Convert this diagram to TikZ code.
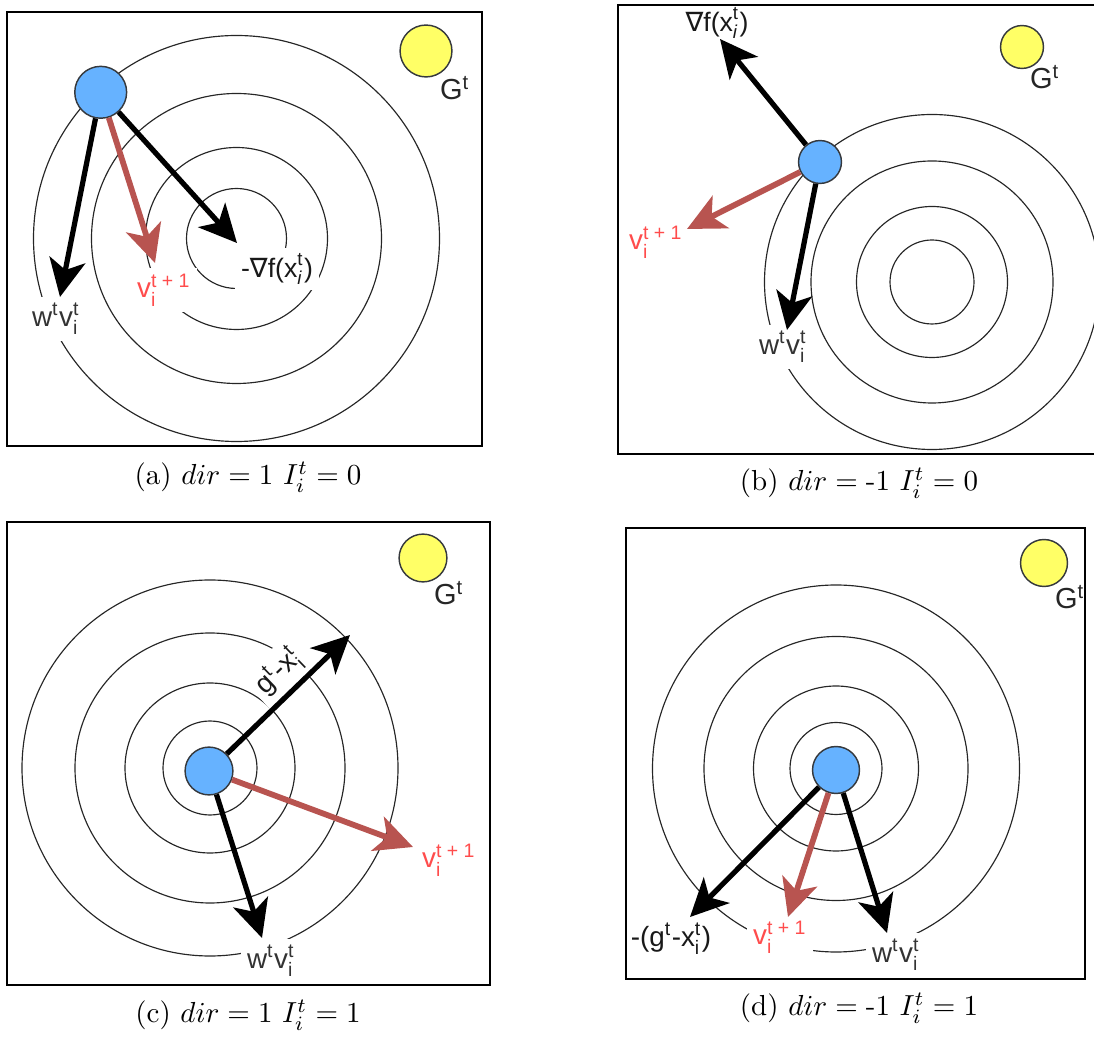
\documentclass[tikz,border=0pt]{standalone}
\usepackage{fontspec}
\usepackage{amsmath}
\usetikzlibrary{arrows.meta}
\newfontfamily\lab{Liberation Sans}
\newfontfamily\dejavu{DejaVu Sans}
\definecolor{bluef}{HTML}{66B2FF}
\definecolor{yellowf}{HTML}{FFFF66}
\definecolor{redarrow}{HTML}{B85450}
\definecolor{redtext}{HTML}{FF4C4C}
\definecolor{edge}{HTML}{36393D}
\tikzset{
  ring/.style={draw=black!85, line width=0.4pt},
  frame/.style={draw=black, line width=0.55pt},
  agent/.style={circle, draw=edge, line width=0.5pt, fill=bluef, inner sep=0pt},
  goal/.style={circle, draw=edge, line width=0.5pt, fill=yellowf, inner sep=0pt},
  arr/.style={line width=1.8pt, -{Stealth[length=13pt,width=12.5pt,inset=3.5pt]}},
  redarr/.style={arr, draw=redarrow, line width=2pt},
  lbl/.style={font=\lab\fontsize{9.6}{10}\selectfont, fill=white, inner sep=2pt, text=black!80},
  rlbl/.style={lbl, text=redtext},
  glbl/.style={font=\lab\fontsize{10}{11}\selectfont, inner sep=1pt, text=black!85},
  captext/.style={font=\fontsize{10}{12}\selectfont, inner sep=0pt}
}
\newcommand{\wv}{w$^{\text{t}}$v$^{\text{t}}_{\text{i}}$}
\newcommand{\vnext}{v$_{\text{i}}^{\text{t + 1}}$}
\newcommand{\gt}{G$^{\text{t}}$}
\begin{document}
\begin{tikzpicture}[x=0.345pt, y=-0.345pt]
\useasboundingbox (0,0) rectangle (1094,1041);
\begin{scope}
\clip (0,0) rectangle (1094,1041);
% ---------------- rings
\foreach \r in {50,91,145,203} \draw[ring] (236.5,238.5) circle[radius=\r];
\foreach \r in {42,75.5,121,167.5} \draw[ring] (932,282) circle[radius=\r];
\foreach \r in {47,85,135,188} \draw[ring] (210,768) circle[radius=\r];
\foreach \r in {46,82.5,132,183.5} \draw[ring] (836,768.5) circle[radius=\r];
\end{scope}

% ===== labels (a)
\node[lbl] (wa) at (56,319) {\wv};
\node[rlbl] (va) at (164,290) {\vnext};
\node[lbl, text=black!90, font=\lab\fontsize{9.2}{10}\selectfont] (fa) at (277,269) {-{\dejavu ∇}f(x$^{\text{t}}_{\textit{i}}$)};
\node[glbl] (Ga) at (455,88) {\gt};
% ===== labels (b)
\node[lbl, text=black!90, font=\lab\fontsize{9.2}{10}\selectfont] (fb) at (717,23) {{\dejavu ∇}f(x$^{\text{t}}_{\textit{i}}$)};
\node[rlbl] (vb) at (656,242) {\vnext};
\node[lbl] (wb) at (783,347) {\wv};
\node[glbl] (Gb) at (1045,77) {\gt};
% ===== labels (c)
\node[lbl, text=black!90, rotate=44] (gc) at (279,672) {g$^{\text{t}}$-x$^{\text{t}}_{\text{i}}$};
\node[rlbl] (vc) at (449,860) {\vnext};
\node[lbl] (wc) at (271,961) {\wv};
\node[glbl] (Gc) at (449,593) {\gt};
% ===== labels (d)
\node[lbl, text=black!90] (gd) at (671,939) {-(g$^{\text{t}}$-x$^{\text{t}}_{\text{i}}$)};
\node[rlbl] (vd) at (780,937) {\vnext};
\node[lbl] (wd) at (896,955) {\wv};
\node[glbl] (Gd) at (1070,597) {\gt};

% ===== frames
\begin{scope}
\clip (0,0) rectangle (1094,1041);
\draw[frame] (7,12) rectangle (482,446);
\draw[frame] (618,5) rectangle (1100,454);
\draw[frame] (7,522) rectangle (490,985);
\draw[frame] (626,528) rectangle (1085,979);
\end{scope}

% ===== agents and goals
\node[agent, minimum size=17.9pt] (pa) at (100.7,92.3) {};
\node[goal, minimum size=17.9pt] (ya) at (426,51) {};
\node[agent, minimum size=14.8pt] (pb) at (820,162) {};
\node[goal, minimum size=14.8pt] (yb) at (1022,47) {};
\node[agent, minimum size=16.5pt] (pc) at (209,771) {};
\node[goal, minimum size=16.5pt] (yc) at (423,558) {};
\node[agent, minimum size=16.2pt] (pd) at (836,770) {};
\node[goal, minimum size=16.2pt] (yd) at (1044,563) {};

% ===== arrow tips
\coordinate (ta1) at (60,297);
\coordinate (ta2) at (155,263);
\coordinate (ta3) at (237,243);
\coordinate (tb1) at (720,39);
\coordinate (tb2) at (687,229);
\coordinate (tb3) at (787,330);
\coordinate (tc1) at (350,635);
\coordinate (tc2) at (413,847);
\coordinate (tc3) at (262,938);
\coordinate (td1) at (690,917);
\coordinate (td2) at (788,917);
\coordinate (td3) at (887,933);

% ===== arrows
\draw[arr] (pa) -- (ta1);
\draw[redarr] (pa) -- (ta2);
\draw[arr] (pa) -- (ta3);
\draw[arr] (pb) -- (tb1);
\draw[redarr] (pb) -- (tb2);
\draw[arr] (pb) -- (tb3);
\draw[arr] (pc) -- (tc1);
\draw[redarr] (pc) -- (tc2);
\draw[arr] (pc) -- (tc3);
\draw[arr] (pd) -- (td1);
\draw[redarr] (pd) -- (td2);
\draw[arr] (pd) -- (td3);

% ===== captions
\node[captext] (capa) at (248,477) {(a) $dir = 1$ $I_i^t = 0$};
\node[captext] (capb) at (859,483) {(b) $dir = \mbox{-}1$ $I_i^t = 0$};
\node[captext] (capc) at (248,1015) {(c) $dir = 1$ $I_i^t = 1$};
\node[captext] (capd) at (859,1008) {(d) $dir = \mbox{-}1$ $I_i^t = 1$};
\end{tikzpicture}
\end{document}
